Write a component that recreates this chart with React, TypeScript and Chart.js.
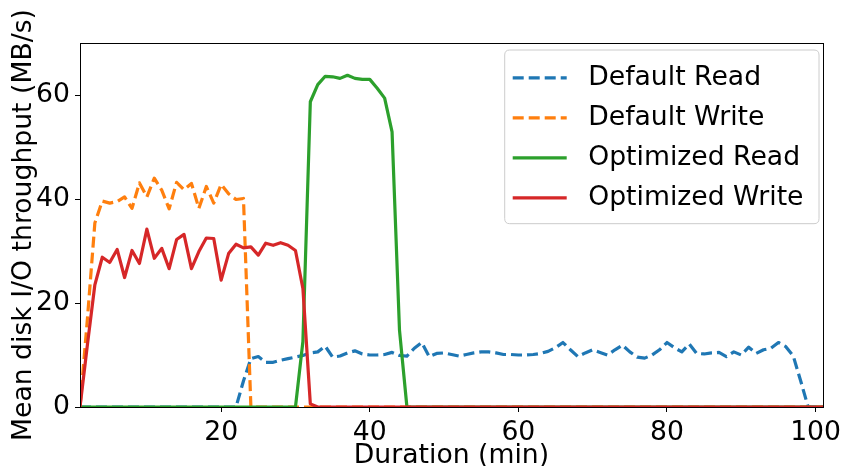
import React, { useEffect, useRef } from "react";
import { Chart, registerables } from "chart.js";

Chart.register(...registerables);

const durations = [
  1, 2, 3, 4, 5, 6, 7, 8, 9, 10, 11, 12, 13, 14, 15, 16, 17, 18, 19, 20,
  21, 22, 23, 24, 25, 26, 27, 28, 29, 30, 31, 32, 33, 34, 35, 36, 37, 38, 39, 40,
  41, 42, 43, 44, 45, 46, 47, 48, 49, 50, 51, 52, 53, 54, 55, 56, 57, 58, 59, 60,
  61, 62, 63, 64, 65, 66, 67, 68, 69, 70, 71, 72, 73, 74, 75, 76, 77, 78, 79, 80,
  81, 82, 83, 84, 85, 86, 87, 88, 89, 90, 91, 92, 93, 94, 95, 96, 97, 98, 99, 100, 101,
];

const defaultRead = [
  0, 0, 0, 0, 0, 0, 0, 0, 0, 0, 0, 0, 0, 0, 0, 0, 0, 0, 0, 0,
  0, 0, 5.0, 9.3, 9.7, 8.6, 8.6, 9.0, 9.3, 9.6, 9.9, 10.4, 10.6, 11.7, 9.6, 9.8, 10.4, 10.8, 10.2, 10.0,
  10.0, 10.1, 10.5, 9.9, 9.8, 11.3, 12.4, 9.7, 10.3, 10.4, 10.1, 9.8, 10.1, 10.4, 10.6, 10.6, 10.4, 10.1, 10.1, 10.0,
  10.0, 10.1, 10.3, 10.7, 11.4, 12.4, 11.0, 9.7, 10.4, 11.0, 10.5, 10.0, 11.0, 11.9, 10.6, 9.6, 9.4, 10.0, 11.0, 12.4,
  11.4, 10.6, 12.1, 10.3, 10.2, 10.4, 10.5, 9.7, 10.6, 10.0, 11.5, 10.3, 11.0, 11.3, 12.4, 11.6, 9.8, 5.0, 0, 0, 0,
];

const defaultWrite = [
  0, 17.0, 35.4, 39.6, 39.2, 39.5, 40.4, 38.2, 43.1, 40.4, 44.0, 41.7, 38.1, 43.2, 41.8, 43.0, 38.2, 42.4, 39.2, 42.8,
  41.0, 39.9, 40.1, 0, 0, 0, 0, 0, 0, 0, 0, 0, 0, 0, 0, 0, 0, 0, 0, 0,
  0, 0, 0, 0, 0, 0, 0, 0, 0, 0, 0, 0, 0, 0, 0, 0, 0, 0, 0, 0,
  0, 0, 0, 0, 0, 0, 0, 0, 0, 0, 0, 0, 0, 0, 0, 0, 0, 0, 0, 0,
  0, 0, 0, 0, 0, 0, 0, 0, 0, 0, 0, 0, 0, 0, 0, 0, 0, 0, 0, 0, 0,
];

const optimizedRead = [
  0, 0, 0, 0, 0, 0, 0, 0, 0, 0, 0, 0, 0, 0, 0, 0, 0, 0, 0, 0,
  0, 0, 0, 0, 0, 0, 0, 0, 0, 0, 12.6, 58.7, 62.0, 63.6, 63.5, 63.2, 63.8, 63.2, 63.0, 63.0,
  61.3, 59.4, 52.9, 14.8, 0, 0, 0, 0, 0, 0, 0, 0, 0, 0, 0, 0, 0, 0, 0, 0,
  0, 0, 0, 0, 0, 0, 0, 0, 0, 0, 0, 0, 0, 0, 0, 0, 0, 0, 0, 0,
  0, 0, 0, 0, 0, 0, 0, 0, 0, 0, 0, 0, 0, 0, 0, 0, 0, 0, 0, 0, 0,
];

const optimizedWrite = [
  0, 12.0, 23.5, 28.8, 27.8, 30.3, 24.9, 30.1, 27.6, 34.2, 28.6, 30.5, 26.6, 32.2, 33.2, 26.6, 29.9, 32.5, 32.4, 24.4,
  29.5, 31.3, 30.6, 30.8, 29.2, 31.5, 31.1, 31.6, 31.1, 30.1, 22.8, 0.6, 0, 0, 0, 0, 0, 0, 0, 0,
  0, 0, 0, 0, 0, 0, 0, 0, 0, 0, 0, 0, 0, 0, 0, 0, 0, 0, 0, 0,
  0, 0, 0, 0, 0, 0, 0, 0, 0, 0, 0, 0, 0, 0, 0, 0, 0, 0, 0, 0,
  0, 0, 0, 0, 0, 0, 0, 0, 0, 0, 0, 0, 0, 0, 0, 0, 0, 0, 0, 0, 0,
];

const xTicks = [20, 40, 60, 80, 100];
const yTicks = [0, 20, 40, 60];
const seriesLabels = ["Default Read", "Default Write", "Optimized Read", "Optimized Write"];
const seriesColors = ["#1f77b4", "#ff7f0e", "#2ca02c", "#d62728"];
const seriesValues = [defaultRead, defaultWrite, optimizedRead, optimizedWrite];
const seriesDashed = [true, true, false, false];

const FS = 26.67;
const FONT = "DejaVu Sans";

const framePlugin = {
  id: "frame",
  afterDatasetsDraw(chart: any) {
    const { ctx, chartArea } = chart;
    ctx.save();
    ctx.strokeStyle = "#000";
    ctx.lineWidth = 1;
    ctx.strokeRect(
      Math.round(chartArea.left) + 0.5,
      Math.round(chartArea.top) + 0.5,
      Math.round(chartArea.right - chartArea.left),
      Math.round(chartArea.bottom - chartArea.top)
    );
    ctx.restore();
  },
};

const legendPlugin = {
  id: "mplLegend",
  afterDraw(chart: any) {
    const { ctx, chartArea } = chart;
    const datasets = chart.data.datasets;
    ctx.save();
    ctx.font = `${FS}px "${FONT}"`;
    const textW = Math.max(...datasets.map((d: any) => ctx.measureText(d.label).width));
    const padL = 8;
    const handle = 54;
    const tpad = 21.5;
    const padR = 15.5;
    const padY = 13.5;
    const rowH = FS;
    const spacing = FS * 0.5;
    const w = padL + handle + tpad + textW + padR;
    const h = padY * 2 + rowH * datasets.length + spacing * (datasets.length - 1);
    const right = chartArea.right - 4;
    const top = chartArea.top + 7;
    const left = right - w;
    const r = 5;
    ctx.beginPath();
    ctx.moveTo(left + r, top);
    ctx.lineTo(left + w - r, top);
    ctx.quadraticCurveTo(left + w, top, left + w, top + r);
    ctx.lineTo(left + w, top + h - r);
    ctx.quadraticCurveTo(left + w, top + h, left + w - r, top + h);
    ctx.lineTo(left + r, top + h);
    ctx.quadraticCurveTo(left, top + h, left, top + h - r);
    ctx.lineTo(left, top + r);
    ctx.quadraticCurveTo(left, top, left + r, top);
    ctx.closePath();
    ctx.fillStyle = "rgba(255,255,255,0.8)";
    ctx.fill();
    ctx.strokeStyle = "#cccccc";
    ctx.lineWidth = 1;
    ctx.stroke();
    datasets.forEach((d: any, i: number) => {
      const cy = top + padY + rowH / 2 + i * (rowH + spacing) + 1;
      ctx.beginPath();
      ctx.setLineDash(d.borderDash || []);
      ctx.lineCap = "butt";
      ctx.strokeStyle = d.borderColor;
      ctx.lineWidth = d.borderWidth;
      ctx.moveTo(left + padL, cy);
      ctx.lineTo(left + padL + handle, cy);
      ctx.stroke();
      ctx.setLineDash([]);
      ctx.fillStyle = "#000";
      ctx.textBaseline = "middle";
      ctx.textAlign = "left";
      ctx.fillText(d.label, left + padL + handle + tpad, cy);
    });
    ctx.restore();
  },
};

export default function App() {
  const ref = useRef<HTMLCanvasElement | null>(null);

  useEffect(() => {
    document.body.style.margin = "0";
    if (!ref.current) return;
    Chart.defaults.font.family = FONT;
    const datasets = seriesLabels.map((label, i) => ({
      label,
      data: durations.map((x, j) => ({ x, y: seriesValues[i][j] })),
      borderColor: seriesColors[i],
      backgroundColor: seriesColors[i],
      borderWidth: 3.2,
      borderDash: seriesDashed[i] ? [11, 5] : [],
      borderJoinStyle: "round" as const,
      borderCapStyle: "butt" as const,
      pointRadius: 0,
      tension: 0,
      fill: false,
      order: seriesLabels.length - i,
    }));
    const chart = new Chart(ref.current, {
      type: "line",
      data: { datasets },
      options: {
        animation: false,
        responsive: false,
        devicePixelRatio: 1,
        layout: { padding: { top: 43, right: 20, left: 0, bottom: 0 } },
        plugins: { legend: { display: false }, tooltip: { enabled: false } },
        scales: {
          x: {
            type: "linear",
            min: 1,
            max: 101,
            afterBuildTicks: (s: any) => {
              s.ticks = xTicks.map((v) => ({ value: v }));
            },
            afterFit: (s: any) => {
              s.height = 59;
              s.paddingLeft = 0;
              s.paddingRight = 0;
            },
            grid: { display: true, drawOnChartArea: false, drawTicks: true, tickLength: 5, color: "#000", lineWidth: 1 },
            border: { display: false },
            ticks: { color: "#000", font: { size: FS }, padding: 5, maxRotation: 0, autoSkip: false },
            title: {
              display: true,
              text: "Duration (min)",
              color: "#000",
              font: { size: FS, lineHeight: 1 },
              padding: { top: 0, bottom: -3 },
            },
          },
          y: {
            type: "linear",
            min: 0,
            max: 70,
            afterBuildTicks: (s: any) => {
              s.ticks = yTicks.map((v) => ({ value: v }));
            },
            afterFit: (s: any) => {
              s.width = 80;
              s.paddingTop = 0;
              s.paddingBottom = 0;
            },
            grid: { display: true, drawOnChartArea: false, drawTicks: true, tickLength: 5, color: "#000", lineWidth: 1 },
            border: { display: false },
            ticks: { color: "#000", font: { size: FS }, padding: 5, autoSkip: false },
            title: {
              display: true,
              text: "Mean disk I/O throughput (MB/s)",
              color: "#000",
              font: { size: FS },
              padding: { top: 8, bottom: 0 },
            },
          },
        },
      },
      plugins: [framePlugin, legendPlugin],
    });
    return () => chart.destroy();
  }, []);

  return <canvas ref={ref} width={843} height={466} style={{ display: "block" }} />;
}
